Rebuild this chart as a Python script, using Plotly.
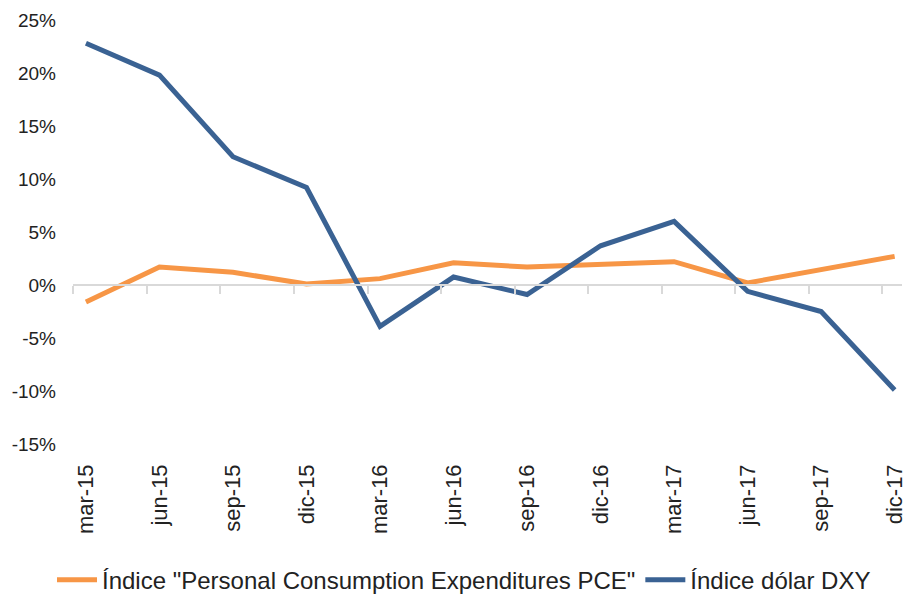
import plotly.graph_objects as go

categories = ["mar-15", "jun-15", "sep-15", "dic-15", "mar-16", "jun-16",
              "sep-16", "dic-16", "mar-17", "jun-17", "sep-17", "dic-17"]
pce = [-1.6, 1.7, 1.2, 0.1, 0.6, 2.1, 1.7, 2.0, 2.2, 0.2, 1.4, 2.7]
dxy = [22.8, 19.8, 12.1, 9.2, -3.9, 0.75, -0.9, 3.7, 6.0, -0.6, -2.5, -9.9]
y_ticks = [-15, -10, -5, 0, 5, 10, 15, 20, 25]

idx = list(range(len(categories)))
x_range = [-0.176, 11.1]
tick_offset = -0.17

fig = go.Figure()
fig.add_trace(go.Scatter(
    x=idx, y=pce, mode="lines",
    name='Índice "Personal Consumption Expenditures PCE"',
    line=dict(color="#F79646", width=5),
))
fig.add_trace(go.Scatter(
    x=idx, y=dxy, mode="lines",
    name="Índice dólar DXY",
    line=dict(color="#3A6293", width=5),
))

# invisible helper trace on the zero-line axis
fig.add_trace(go.Scatter(x=[idx[0]], y=[0], xaxis="x2", mode="markers",
                         marker=dict(opacity=0), showlegend=False, hoverinfo="skip"))

y_min, y_max = y_ticks[0], y_ticks[-1]
zero_pos = (0 - y_min) / (y_max - y_min)

fig.update_layout(
    width=906, height=603,
    margin=dict(l=73, r=4, t=20, b=159, autoexpand=False),
    paper_bgcolor="white", plot_bgcolor="white",
    font=dict(family="Liberation Sans, Arial, sans-serif", color="#222222"),
    showlegend=True,
    legend=dict(orientation="h", xref="container", yref="container",
                x=0.0574, xanchor="left", y=0.038, yanchor="middle",
                font=dict(size=24, color="#222222"), itemwidth=40,
                tracegroupgap=0, bgcolor="rgba(0,0,0,0)"),
    xaxis=dict(range=x_range, tickmode="array", tickvals=idx, ticktext=categories,
               tickangle=-90, tickfont=dict(size=22), showgrid=False, zeroline=False,
               showline=False, ticks="", ticklabelstandoff=15, automargin=False,
               ticklabeloverflow="allow"),
    xaxis2=dict(range=x_range, overlaying="x", anchor="free", position=zero_pos,
                side="bottom", tickmode="array",
                tickvals=[i + tick_offset for i in idx],
                showticklabels=False, ticks="outside", ticklen=8, tickwidth=1.5,
                tickcolor="#D9D9D9", showline=True, linecolor="#D9D9D9", linewidth=1.5,
                showgrid=False, zeroline=False, automargin=False),
    yaxis=dict(range=[y_min, y_max], tickmode="array", tickvals=y_ticks,
               ticktext=[f"{v}%" for v in y_ticks], tickfont=dict(size=19),
               showgrid=False, zeroline=False, showline=False, ticks="",
               ticklabelstandoff=16, automargin=False),
)

fig.write_html("out.html", config={"displayModeBar": False},
               post_script="document.body.style.margin='0';")
